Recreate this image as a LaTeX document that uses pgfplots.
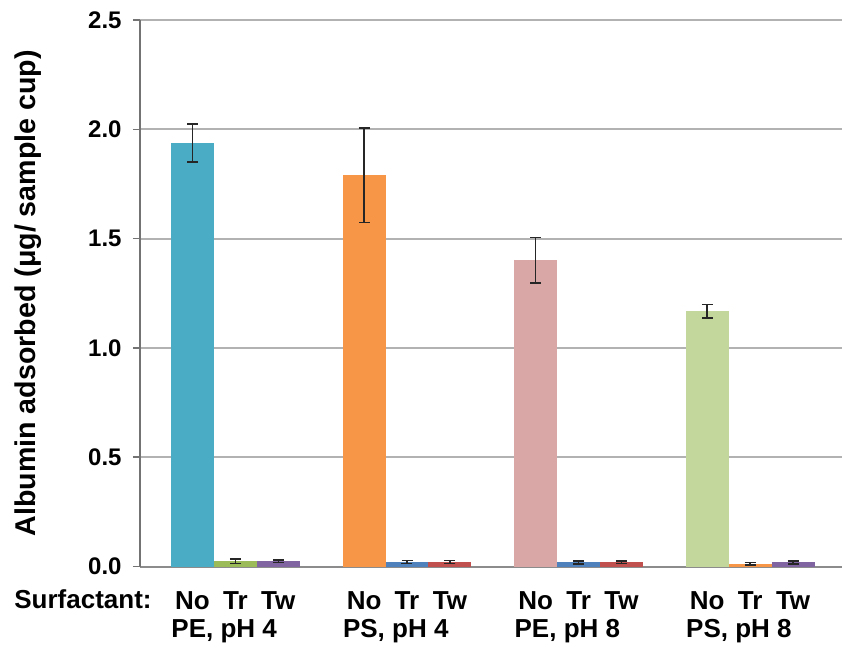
\documentclass[border=0pt]{standalone}
\usepackage{fontspec}
\setmainfont{Liberation Sans}
\usepackage{pgfplots}
\pgfplotsset{compat=1.18}
\definecolor{cCyan}{HTML}{4BACC6}
\definecolor{cGreen}{HTML}{9BBB59}
\definecolor{cPurple}{HTML}{8064A2}
\definecolor{cOrange}{HTML}{F79646}
\definecolor{cBlue}{HTML}{4F81BD}
\definecolor{cRed}{HTML}{C0504D}
\definecolor{cPink}{HTML}{D9A7A6}
\definecolor{cLGreen}{HTML}{C3D69B}
\pgfplotsset{
  mybar/.style={fill=#1, draw=none, bar width=1, bar shift=0pt,
    error bars/.cd, y dir=both, y explicit,
    error mark=-,
    error bar style={draw=black!85, line width=0.8pt},
    error mark options={rotate=90, draw=black!85, line width=0.8pt, mark size=2.75pt}}
}
\begin{document}
\begin{tikzpicture}
\begin{axis}[
  at={(0,0)}, anchor=south west,
  scale only axis, width=351pt, height=273.3pt,
  xmin=-1.224, xmax=15.14, ymin=0, ymax=2.5,
  ybar, clip=false,
  axis lines*=left,
  x axis line style={draw=black!45, line width=1pt},
  y axis line style={draw=black!55, line width=0.8pt},
  ytick={0,0.5,1,1.5,2,2.5},
  ymajorgrids, grid style={draw=black!30, line width=1pt},
  tick align=outside, major tick length=3.5pt,
  ytick style={draw=black!55, line width=0.8pt},
  xtick style={draw=none},
  xtick={0,1,2,4,5,6,8,9,10,12,13,14},
  xticklabels={No,Tr,Tw,No,Tr,Tw,No,Tr,Tw,No,Tr,Tw},
  /pgf/number format/assume math mode=true,
  yticklabel style={/pgf/number format/fixed, /pgf/number format/fixed zerofill, /pgf/number format/precision=1},
  yticklabel style={font=\bfseries\fontsize{12}{14}\selectfont, anchor=east, inner sep=0pt, xshift=-5.5pt},
  xticklabel style={font=\bfseries\fontsize{13}{15}\selectfont, anchor=base, inner sep=0pt, yshift=-17.8pt},
  ylabel={Albumin adsorbed (μg/ sample cup)},
  ylabel style={at={(axis description cs:-0.1595,0.5)}, anchor=center, font=\bfseries\fontsize{14.3}{16}\selectfont},
]
\addplot[mybar=cCyan] coordinates {(0,1.937) +- (0,0.087)};
\addplot[mybar=cGreen] coordinates {(1,0.025) +- (0,0.010)};
\addplot[mybar=cPurple] coordinates {(2,0.024) +- (0,0.006)};
\addplot[mybar=cOrange] coordinates {(4,1.789) +- (0,0.216)};
\addplot[mybar=cBlue] coordinates {(5,0.021) +- (0,0.006)};
\addplot[mybar=cRed] coordinates {(6,0.021) +- (0,0.006)};
\addplot[mybar=cPink] coordinates {(8,1.401) +- (0,0.104)};
\addplot[mybar=cBlue] coordinates {(9,0.019) +- (0,0.006)};
\addplot[mybar=cRed] coordinates {(10,0.020) +- (0,0.006)};
\addplot[mybar=cLGreen] coordinates {(12,1.168) +- (0,0.030)};
\addplot[mybar=cOrange] coordinates {(13,0.013) +- (0,0.005)};
\addplot[mybar=cPurple] coordinates {(14,0.019) +- (0,0.007)};
\begin{scope}[every node/.style={inner sep=0pt, font=\bfseries\fontsize{13}{15}\selectfont}]
\node[anchor=base east] at ([yshift=-21.2pt]axis cs:-0.944,0) {Surfactant:};
\node[anchor=base west] at ([yshift=-35.7pt]axis cs:-0.5,0) {PE, pH 4};
\node[anchor=base west] at ([yshift=-35.7pt]axis cs:3.5,0) {PS, pH 4};
\node[anchor=base west] at ([yshift=-35.7pt]axis cs:7.5,0) {PE, pH 8};
\node[anchor=base west] at ([yshift=-35.7pt]axis cs:11.5,0) {PS, pH 8};
\end{scope}
\end{axis}
\pgfresetboundingbox
\path[use as bounding box] (-70pt,-44.7pt) rectangle (351pt,283.3pt);
\end{tikzpicture}
\end{document}
